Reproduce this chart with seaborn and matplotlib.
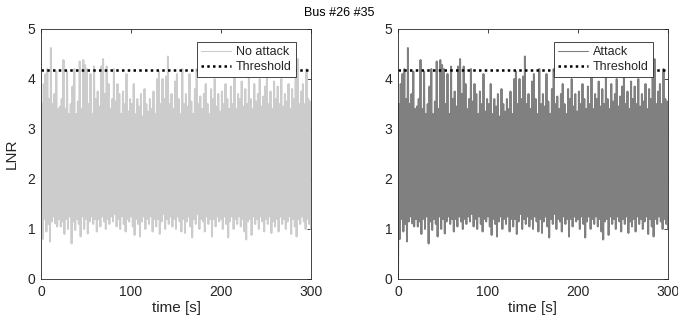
import numpy as np
import pandas as pd
import matplotlib
matplotlib.use("Agg")
import matplotlib.pyplot as plt
import seaborn as sns

# LNR peaks (odd seconds 1..299) and troughs (even seconds 0..300)
lnr_high = [
    3.5, 3.9, 4.1, 4.2, 3.6,   4.62, 3.5, 3.7, 4.15, 3.4,
    3.45, 3.6, 4.38, 3.4, 4.15,  3.3, 3.5, 3.85, 4.2, 3.3,
    3.55, 4.35, 3.4, 4.38, 4.28,  4.2, 3.5, 4.1, 3.3, 4.25,
    3.6, 3.75, 3.45, 4.25, 4.4,  3.7, 4.25, 3.9, 3.4, 3.6,
    4.2, 3.55, 3.9, 3.7, 3.3,   3.75, 3.5, 4.1, 3.35, 3.6,
    3.5, 3.9, 3.3, 3.6, 3.45,   3.7, 3.25, 3.8, 3.5, 3.35,
    3.6, 3.4, 3.75, 3.3, 4.0,   4.15, 3.5, 4.0, 3.6, 4.05,
    4.45, 3.5, 3.7, 3.4, 3.95,  4.1, 3.6, 3.3, 4.2, 3.5,
    3.7, 3.45, 4.1, 3.55, 3.3,  3.8, 4.2, 3.5, 3.65, 3.4,
    3.7, 3.9, 3.5, 3.3, 3.8,    3.6, 4.0, 3.45, 3.7, 3.35,
    3.75, 3.5, 3.9, 3.6, 3.4,   3.85, 3.5, 4.05, 3.4, 3.7,
    3.6, 3.95, 3.45, 3.8, 3.5,  4.05, 3.6, 3.4, 3.9, 3.55,
    3.7, 4.0, 3.45, 3.65, 3.85, 4.1, 3.5, 3.75, 3.4, 3.95,
    3.6, 3.85, 3.5, 4.0, 3.45,  3.7, 3.55, 3.9, 3.4, 3.8,
    3.6, 4.05, 4.4, 3.5, 3.75,  3.9, 3.5, 4.2, 3.6, 3.55,
]
lnr_low = [
    1.4, 0.8, 1.2, 0.95, 1.1,   0.75, 1.15, 1.25, 1.11, 1.05,
    1.2, 1.05, 1.15, 0.9, 1.2,  1.0, 1.25, 0.71, 1.15, 0.98,
    1.2, 1.1, 0.85, 1.25, 1.0,  1.2, 0.91, 1.15, 1.25, 1.1,
    1.2, 0.95, 1.2, 1.05, 1.25, 1.15, 1.0, 1.2, 1.1, 1.25,
    1.15, 1.3, 1.05, 1.2, 1.0,  1.25, 1.1, 0.95, 1.2, 1.15,
    1.25, 1.05, 0.88, 1.2, 1.1, 0.85, 1.15, 1.25, 1.0, 1.2,
    1.1, 1.25, 0.95, 1.2, 1.05, 1.2, 0.9, 1.15, 1.3, 1.0,
    1.2, 1.1, 1.25, 1.05, 1.2,  1.0, 1.25, 1.15, 0.95, 1.2,
    0.92, 1.15, 1.25, 1.05, 0.83, 1.2, 1.1, 1.3, 1.0, 1.2,
    1.15, 0.95, 1.25, 1.1, 1.2, 0.85, 1.2, 1.05, 1.25, 1.15,
    1.2, 1.0, 1.25, 1.1, 0.83,  1.15, 1.25, 1.0, 1.2, 1.1,
    1.25, 1.05, 1.2, 0.95, 0.79, 1.15, 1.2, 0.88, 1.25, 1.1,
    1.2, 1.0, 1.25, 1.15, 0.95, 1.2, 1.1, 1.25, 0.92, 1.15,
    1.05, 1.2, 0.95, 1.25, 1.1, 1.2, 1.0, 1.15, 1.25, 0.9,
    1.2, 1.05, 0.85, 1.2, 1.1,  1.25, 1.15, 1.0, 1.2, 1.1,
    1.0,
]
# the attack trace looks the same, except it starts from 0
attack_low = [0.0] + lnr_low[1:]
threshold = 4.18

def build(low, high):
    vals = []
    for i in range(len(high)):
        vals.append(low[i])
        vals.append(high[i])
    vals.append(low[-1])
    return pd.DataFrame({"t": np.arange(len(vals)), "lnr": vals})

no_attack = build(lnr_low, lnr_high)
attack = build(attack_low, lnr_high)
thr_df = pd.DataFrame({"t": [0, 300], "lnr": [threshold, threshold]})

sns.set_style("white")
plt.rcParams['font.family'] = ['Liberation Sans', 'DejaVu Sans']
ink = '#262626'

fig = plt.figure(figsize=(6.78, 3.25), dpi=100)
ax1 = fig.add_axes([41/678, 1-279/325, 270/678, 250/325])
ax2 = fig.add_axes([398/678, 1-279/325, 270/678, 250/325])

panels = [(ax1, no_attack, '#cccccc', 'No attack'), (ax2, attack, '#808080', 'Attack')]
for ax, df, col, name in panels:
    sns.lineplot(data=df, x='t', y='lnr', ax=ax, color=col, lw=1.4, label=name)
    sns.lineplot(data=thr_df, x='t', y='lnr', ax=ax, color='black', lw=1.8,
                 linestyle=(0, (1, 1.3)), label='Threshold')
    ax.set_xlim(0, 300)
    ax.set_ylim(0, 5)
    ax.set_xticks([0, 100, 200, 300])
    ax.set_yticks([0, 1, 2, 3, 4, 5])
    ax.set_xlabel('time [s]', fontsize=11, color=ink, labelpad=2)
    ax.set_ylabel('')
    ax.tick_params(direction='in', length=3, width=0.6, colors=ink, labelsize=10,
                   top=True, right=True, pad=4)
    for s in ax.spines.values():
        s.set_color(ink)
        s.set_linewidth(0.6)
    leg = ax.legend(loc='upper right', bbox_to_anchor=(0.945, 0.95), fontsize=9,
                    frameon=True, fancybox=False, framealpha=1, borderaxespad=0,
                    handlelength=2.4, borderpad=0.35, labelspacing=0.25, handletextpad=0.4)
    leg.get_frame().set_edgecolor(ink)
    leg.get_frame().set_linewidth(0.6)
    leg.get_lines()[0].set_linewidth(0.8)

ax1.set_ylabel('LNR', fontsize=11, color=ink, labelpad=6)
fig.text(0.5, 0.96, 'Bus #26 #35', ha='center', va='center', fontsize=9, color='black')

fig.savefig('out.png', dpi=100)
